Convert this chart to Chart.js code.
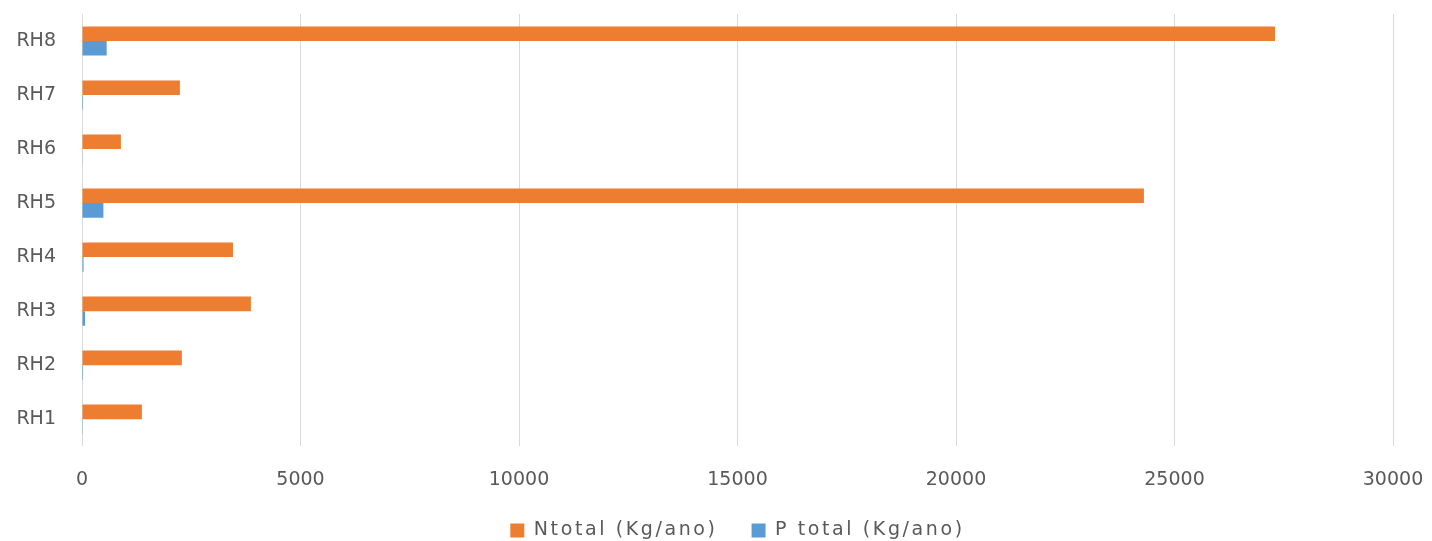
<!DOCTYPE html>
<html>
<head>
<meta charset="utf-8">
<script src="https://cdn.jsdelivr.net/npm/chart.js@4.4.1/dist/chart.umd.min.js"></script>
<style>
  html, body { margin: 0; padding: 0; background: #ffffff; }
  #wrap { width: 1432px; height: 541px; position: relative; }
</style>
</head>
<body>
<div id="wrap"><canvas id="chart" width="1432" height="541"></canvas></div>
<script>
// Regiões hidrográficas e cargas anuais de nutrientes
const categories = ['RH1', 'RH2', 'RH3', 'RH4', 'RH5', 'RH6', 'RH7', 'RH8'];
const nTotal = [1370, 2285, 3865, 3455, 24300, 890, 2240, 27300];
const pTotal = [5, 25, 70, 35, 490, 8, 25, 565];
const seriesNames = ['Ntotal (Kg/ano)', 'P total (Kg/ano)'];
const xTicks = [0, 5000, 10000, 15000, 20000, 25000, 30000];

const textColor = '#595959';
const fontFamily = '"DejaVu Sans", sans-serif';

// Wider legend lettering, and a compact legend strip at the bottom
const LEGEND_HEIGHT = 28;
const LEGEND_DRAW_SHIFT = 26;
const legendSpacing = {
  id: 'legendSpacing',
  beforeUpdate(chart) {
    const lg = chart.legend;
    if (!lg || lg._spaced) return;
    lg._spaced = true;
    const fit = lg.fit.bind(lg);
    const draw = lg.draw.bind(lg);
    const withSpacing = fn => {
      const c = lg.ctx;
      const prev = c.letterSpacing;
      c.letterSpacing = '2.6px';
      fn();
      c.letterSpacing = prev || '0px';
    };
    lg.fit = function () {
      withSpacing(fit);
      this.height = LEGEND_HEIGHT;
    };
    lg.draw = function () {
      const top = this.top;
      this.top = top - LEGEND_DRAW_SHIFT;
      withSpacing(draw);
      this.top = top;
    };
  }
};

new Chart(document.getElementById('chart'), {
  type: 'bar',
  data: {
    labels: categories,
    datasets: [
      { label: seriesNames[0], data: nTotal, backgroundColor: '#ED7D31' },
      { label: seriesNames[1], data: pTotal, backgroundColor: '#5B9BD5' }
    ]
  },
  options: {
    indexAxis: 'y',
    responsive: false,
    animation: false,
    categoryPercentage: 0.54,
    barPercentage: 1.0,
    layout: { padding: { top: 14, right: 39, bottom: 0, left: 0 } },
    scales: {
      x: {
        min: 0,
        max: 30000,
        afterBuildTicks(axis) { axis.ticks = xTicks.map(v => ({ value: v })); },
        afterFit(axis) { axis.paddingLeft = 0; axis.paddingRight = 0; },
        grid: { color: '#D9D9D9', lineWidth: 1, drawTicks: false },
        border: { display: false },
        ticks: {
          color: textColor,
          font: { family: fontFamily, size: 19 },
          padding: 22,
          maxRotation: 0,
          callback: v => String(v)
        }
      },
      y: {
        reverse: true,
        grid: { display: false, drawTicks: false },
        border: { display: false },
        afterFit(axis) { axis.width = 82; axis.paddingTop = 0; axis.paddingBottom = 0; },
        ticks: { color: textColor, font: { family: fontFamily, size: 19 }, padding: 26 }
      }
    },
    plugins: {
      legend: {
        position: 'bottom',
        fullSize: false,
        labels: {
          color: textColor,
          font: { family: fontFamily, size: 19 },
          boxWidth: 14,
          boxHeight: 14,
          padding: 34
        }
      },
      tooltip: { enabled: false }
    }
  },
  plugins: [legendSpacing]
});
</script>
</body>
</html>
